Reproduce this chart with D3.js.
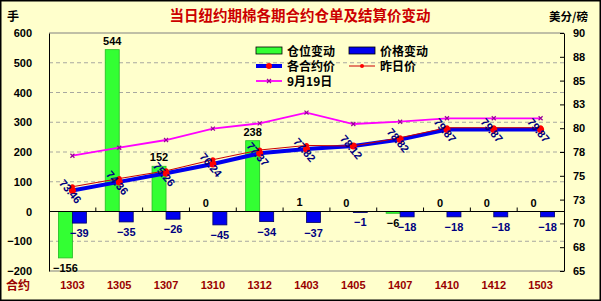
<!DOCTYPE html>
<html>
<head>
<meta charset="utf-8">
<script src="https://cdn.jsdelivr.net/npm/d3@7"></script>
<style>
  body { margin: 0; background: #fff; }
  svg { display: block; }
  .num { font-family: "Liberation Sans", Arial, sans-serif; font-weight: bold; }
  .cjk { font-family: "Noto Sans CJK SC", sans-serif; font-weight: bold; }
</style>
</head>
<body>
<svg width="601" height="301"></svg>
<script>
const categories = ['1303', '1305', '1307', '1310', '1312', '1403', '1405', '1407', '1410', '1412', '1503'];
const positionChange = [-156, 544, 152, 0, 238, 1, 0, -6, 0, 0, 0];
const priceChange = [-39, -35, -26, -45, -34, -37, -1, -18, -18, -18, -18];
const todayPrice = [73.46, 74.36, 75.26, 76.24, 77.37, 77.82, 78.12, 78.82, 79.87, 79.87, 79.87];
const yesterdayPrice = [73.85, 74.71, 75.52, 76.69, 77.71, 78.19, 78.13, 79.00, 80.05, 80.05, 80.05];
const sep19Price = [77.11, 77.95, 78.76, 79.95, 80.51, 81.63, 80.44, 80.68, 81.04, 81.04, 81.04];
const leftTicks = [-200, -100, 0, 100, 200, 300, 400, 500, 600];
const rightTicks = [65, 67.5, 70, 72.5, 75, 77.5, 80, 82.5, 85, 87.5, 90];

const svg = d3.select('svg');
const width = +svg.attr('width');
const height = +svg.attr('height');
const margin = { left: 49, right: 37, top: 33, bottom: 30 };
const innerWidth = width - margin.left - margin.right;
const innerHeight = height - margin.top - margin.bottom;

svg.append('rect')
    .attr('x', 0.75).attr('y', 0.75)
    .attr('width', width - 1.5).attr('height', height - 1.5)
    .attr('fill', '#FFFFCC')
    .attr('stroke', '#000')
    .attr('stroke-width', 1.5);

const g = svg.append('g')
    .attr('transform', `translate(${margin.left},${margin.top})`);

const xScale = d3.scaleBand()
    .domain(categories)
    .range([0, innerWidth])
    .padding(0);
const yLeft = d3.scaleLinear().domain([-200, 600]).range([innerHeight, 0]);
const yRight = d3.scaleLinear().domain([65, 90]).range([innerHeight, 0]);
const cx = c => xScale(c) + xScale.bandwidth() / 2;
const barW = 14;
const minus = v => v < 0 ? '\u2212' + Math.abs(v) : String(v);

// gridlines
g.selectAll('.grid').data(leftTicks.filter(t => t !== 0 && t !== -200 && t !== 600))
  .enter().append('line')
    .attr('x1', 0).attr('x2', innerWidth)
    .attr('y1', d => yLeft(d)).attr('y2', d => yLeft(d))
    .attr('stroke', '#A8A8A0')
    .attr('stroke-dasharray', '4,3');

// plot frame
g.append('line').attr('x1', 0).attr('x2', innerWidth).attr('y1', 0).attr('y2', 0)
    .attr('stroke', '#808080');
g.append('line').attr('x1', 0).attr('x2', innerWidth).attr('y1', innerHeight).attr('y2', innerHeight)
    .attr('stroke', '#808080');

// bars
g.selectAll('.pos').data(categories)
  .enter().append('rect')
    .attr('x', d => cx(d) - barW)
    .attr('y', (d, i) => yLeft(Math.max(0, positionChange[i])))
    .attr('width', barW)
    .attr('height', (d, i) => Math.abs(yLeft(positionChange[i]) - yLeft(0)))
    .attr('fill', '#33FF33')
    .attr('stroke', '#22BB22')
    .attr('stroke-width', 0.8);

g.selectAll('.price').data(categories)
  .enter().append('rect')
    .attr('x', d => cx(d))
    .attr('y', (d, i) => yLeft(Math.max(0, priceChange[i])))
    .attr('width', barW)
    .attr('height', (d, i) => Math.max(1, Math.abs(yLeft(priceChange[i]) - yLeft(0))))
    .attr('fill', '#0000EE')
    .attr('stroke', '#000066')
    .attr('stroke-width', 0.8);

// zero line with ticks
g.append('line').attr('x1', 0).attr('x2', innerWidth)
    .attr('y1', yLeft(0)).attr('y2', yLeft(0))
    .attr('stroke', '#000');
g.selectAll('.ztick').data(categories.slice(1))
  .enter().append('line')
    .attr('x1', d => xScale(d)).attr('x2', d => xScale(d))
    .attr('y1', yLeft(0)).attr('y2', yLeft(0) - 4)
    .attr('stroke', '#000');

// bar labels
g.selectAll('.posLabel').data(categories)
  .enter().append('text')
    .attr('class', 'num')
    .attr('x', d => cx(d) - barW / 2)
    .attr('y', (d, i) => positionChange[i] >= 0
        ? yLeft(positionChange[i]) - 5
        : yLeft(positionChange[i]) + 14)
    .attr('text-anchor', 'middle')
    .attr('font-size', 11)
    .attr('fill', '#000')
    .text((d, i) => minus(positionChange[i]));

g.selectAll('.priceLabel').data(categories)
  .enter().append('text')
    .attr('class', 'num')
    .attr('x', d => cx(d) + barW / 2)
    .attr('y', (d, i) => yLeft(priceChange[i]) + 14)
    .attr('text-anchor', 'middle')
    .attr('font-size', 11)
    .attr('fill', '#000080')
    .text((d, i) => minus(priceChange[i]));

// lines
const lineOf = values => d3.line()
    .x(d => cx(d))
    .y((d, i) => yRight(values[i]))(categories);

g.append('path').attr('d', lineOf(sep19Price))
    .attr('fill', 'none').attr('stroke', '#FF00FF').attr('stroke-width', 1.8);
g.selectAll('.sepMark').data(categories)
  .enter().append('path')
    .attr('transform', (d, i) => `translate(${cx(d)},${yRight(sep19Price[i])})`)
    .attr('d', 'M-2,-2L2,2M-2,2L2,-2')
    .attr('stroke', '#990099').attr('stroke-width', 1.2);

g.append('path').attr('d', lineOf(todayPrice))
    .attr('fill', 'none').attr('stroke', '#0000EE').attr('stroke-width', 4);

g.append('path').attr('d', lineOf(yesterdayPrice))
    .attr('fill', 'none').attr('stroke', '#CC0000').attr('stroke-width', 1);
g.selectAll('.yMark').data(categories)
  .enter().append('circle')
    .attr('cx', d => cx(d))
    .attr('cy', (d, i) => yRight(yesterdayPrice[i]))
    .attr('r', 2.5)
    .attr('fill', '#FF0000');

g.selectAll('.tMark').data(categories)
  .enter().append('circle')
    .attr('cx', d => cx(d))
    .attr('cy', (d, i) => yRight(todayPrice[i]))
    .attr('r', 3.5)
    .attr('fill', '#FF0000');

g.selectAll('.tLabel').data(categories)
  .enter().append('text')
    .attr('class', 'num')
    .attr('transform', (d, i) => `translate(${cx(d) - 2},${yRight(todayPrice[i]) + 1}) rotate(50)`)
    .attr('text-anchor', 'middle')
    .attr('dy', '0.35em')
    .attr('font-size', 11)
    .attr('fill', '#000080')
    .text((d, i) => todayPrice[i].toFixed(2));

// axes
const styleAxis = (sel, color) => {
  sel.attr('font-family', null).attr('font-size', null);
  sel.selectAll('text')
      .attr('class', 'num')
      .attr('font-size', 11)
      .attr('fill', color);
};

const leftAxis = d3.axisLeft(yLeft)
    .tickValues(leftTicks)
    .tickSize(0)
    .tickPadding(17)
    .tickFormat(minus);
const leftG = g.append('g').call(leftAxis);
leftG.select('.domain').attr('stroke', '#000');
styleAxis(leftG, '#000');

const rightAxis = d3.axisRight(yRight)
    .tickValues(rightTicks)
    .tickSizeInner(-4)
    .tickSizeOuter(0)
    .tickPadding(9)
    .tickFormat(d => String(Math.round(d)));
const rightG = g.append('g')
    .attr('transform', `translate(${innerWidth},0)`)
    .call(rightAxis);
styleAxis(rightG, '#000');

const bottomAxis = d3.axisBottom(xScale).tickSize(0).tickPadding(10);
const bottomG = g.append('g')
    .attr('transform', `translate(0,${innerHeight})`)
    .call(bottomAxis);
bottomG.select('.domain').remove();
styleAxis(bottomG, '#990000');

// titles
svg.append('text').attr('class', 'cjk')
    .attr('x', 300).attr('y', 21)
    .attr('text-anchor', 'middle')
    .attr('font-size', 14.5)
    .attr('fill', '#CC0000')
    .text('当日纽约期棉各期合约仓单及结算价变动');
svg.append('text').attr('class', 'cjk')
    .attr('x', 7).attr('y', 21).attr('font-size', 12).attr('fill', '#000')
    .text('手');
svg.append('text').attr('class', 'cjk')
    .attr('x', 549).attr('y', 21).attr('font-size', 11.5).attr('fill', '#000')
    .text('美分/磅');
svg.append('text').attr('class', 'cjk')
    .attr('x', 6).attr('y', 290).attr('font-size', 12).attr('fill', '#990000')
    .text('合约');

// legend
const legend = svg.append('g');
const lg = [
  { x: 256, y: 51, label: '仓位变动', type: 'rect', fill: '#33FF33' },
  { x: 349, y: 51, label: '价格变动', type: 'rect', fill: '#0000EE' },
  { x: 256, y: 66, label: '各合约价', type: 'today' },
  { x: 349, y: 66, label: '昨日价', type: 'yest' },
  { x: 256, y: 81, label: '9月19日', type: 'sep' }
];
lg.forEach(it => {
  const item = legend.append('g').attr('transform', `translate(${it.x},${it.y})`);
  if (it.type === 'rect') {
    item.append('rect').attr('x', 0).attr('y', -4).attr('width', 26).attr('height', 7)
        .attr('fill', it.fill).attr('stroke', '#000').attr('stroke-width', 0.8);
  } else if (it.type === 'today') {
    item.append('line').attr('x1', 0).attr('x2', 26).attr('y1', 0).attr('y2', 0)
        .attr('stroke', '#0000EE').attr('stroke-width', 4);
    item.append('circle').attr('cx', 13).attr('cy', 0).attr('r', 3).attr('fill', '#FF0000');
  } else if (it.type === 'yest') {
    item.append('line').attr('x1', 0).attr('x2', 26).attr('y1', 0).attr('y2', 0)
        .attr('stroke', '#CC0000').attr('stroke-width', 1);
    item.append('circle').attr('cx', 13).attr('cy', 0).attr('r', 2).attr('fill', '#FF0000');
  } else {
    item.append('line').attr('x1', 0).attr('x2', 26).attr('y1', 0).attr('y2', 0)
        .attr('stroke', '#FF00FF').attr('stroke-width', 1.8);
    item.append('path').attr('d', 'M11,-2L15,2M11,2L15,-2')
        .attr('stroke', '#990099').attr('stroke-width', 1.2);
  }
  item.append('text').attr('class', 'cjk')
      .attr('x', 31).attr('y', 4.5)
      .attr('font-size', 12)
      .attr('fill', '#000')
      .text(it.label);
});
</script>
</body>
</html>
